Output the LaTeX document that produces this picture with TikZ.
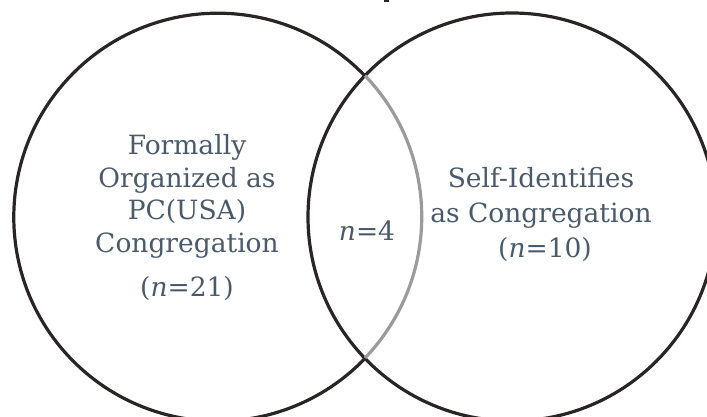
\documentclass[tikz,border=0pt]{standalone}
\usepackage{fontspec}
\setmainfont{DejaVu Serif}
\definecolor{txt}{HTML}{4A5A6D}
\definecolor{ring}{HTML}{2A2525}
\definecolor{ringgrey}{HTML}{9C9A9A}
\begin{document}
\begin{tikzpicture}[x=1pt,y=1pt,
  lbl/.style={anchor=base,text=txt,inner sep=0pt,font=\fontsize{26.5}{30}\selectfont},
  ringline/.style={draw=ring,line width=3.2pt},
  greyline/.style={draw=ringgrey,line width=3.2pt}]
\useasboundingbox (0,0) rectangle (707,417);
\clip (0,0) rectangle (707,417);
\coordinate (lc) at (218,200);
\coordinate (rc) at (512,200);
% right circle
\draw[ringline] (rc) circle[radius=204];
% left circle: outer part black, inner part grey
\draw[ringline] (365,341) arc[start angle=43.8,end angle=316.2,radius=204];
\draw[greyline] (365,59) arc[start angle=-43.8,end angle=43.8,radius=204];
% fragment at top
\fill[ring] (384,415) rectangle (388.5,417);
% left labels
\node[lbl] (l1) at (187,262) {Formally};
\node[lbl] (l2) at (187,229) {Organized as};
\node[lbl] (l3) at (187,197) {PC(USA)};
\node[lbl] (l4) at (187,164) {Congregation};
\node[lbl] (l5) at (187,120) {(\textit{n}=21)};
% middle
\node[lbl] (m1) at (367,176) {\textit{n}=4};
% right labels
\node[lbl] (r1) at (541,229) {Self-Identifies};
\node[lbl] (r2) at (541,194) {as Congregation};
\node[lbl] (r3) at (545,159) {(\textit{n}=10)};
\end{tikzpicture}
\end{document}
